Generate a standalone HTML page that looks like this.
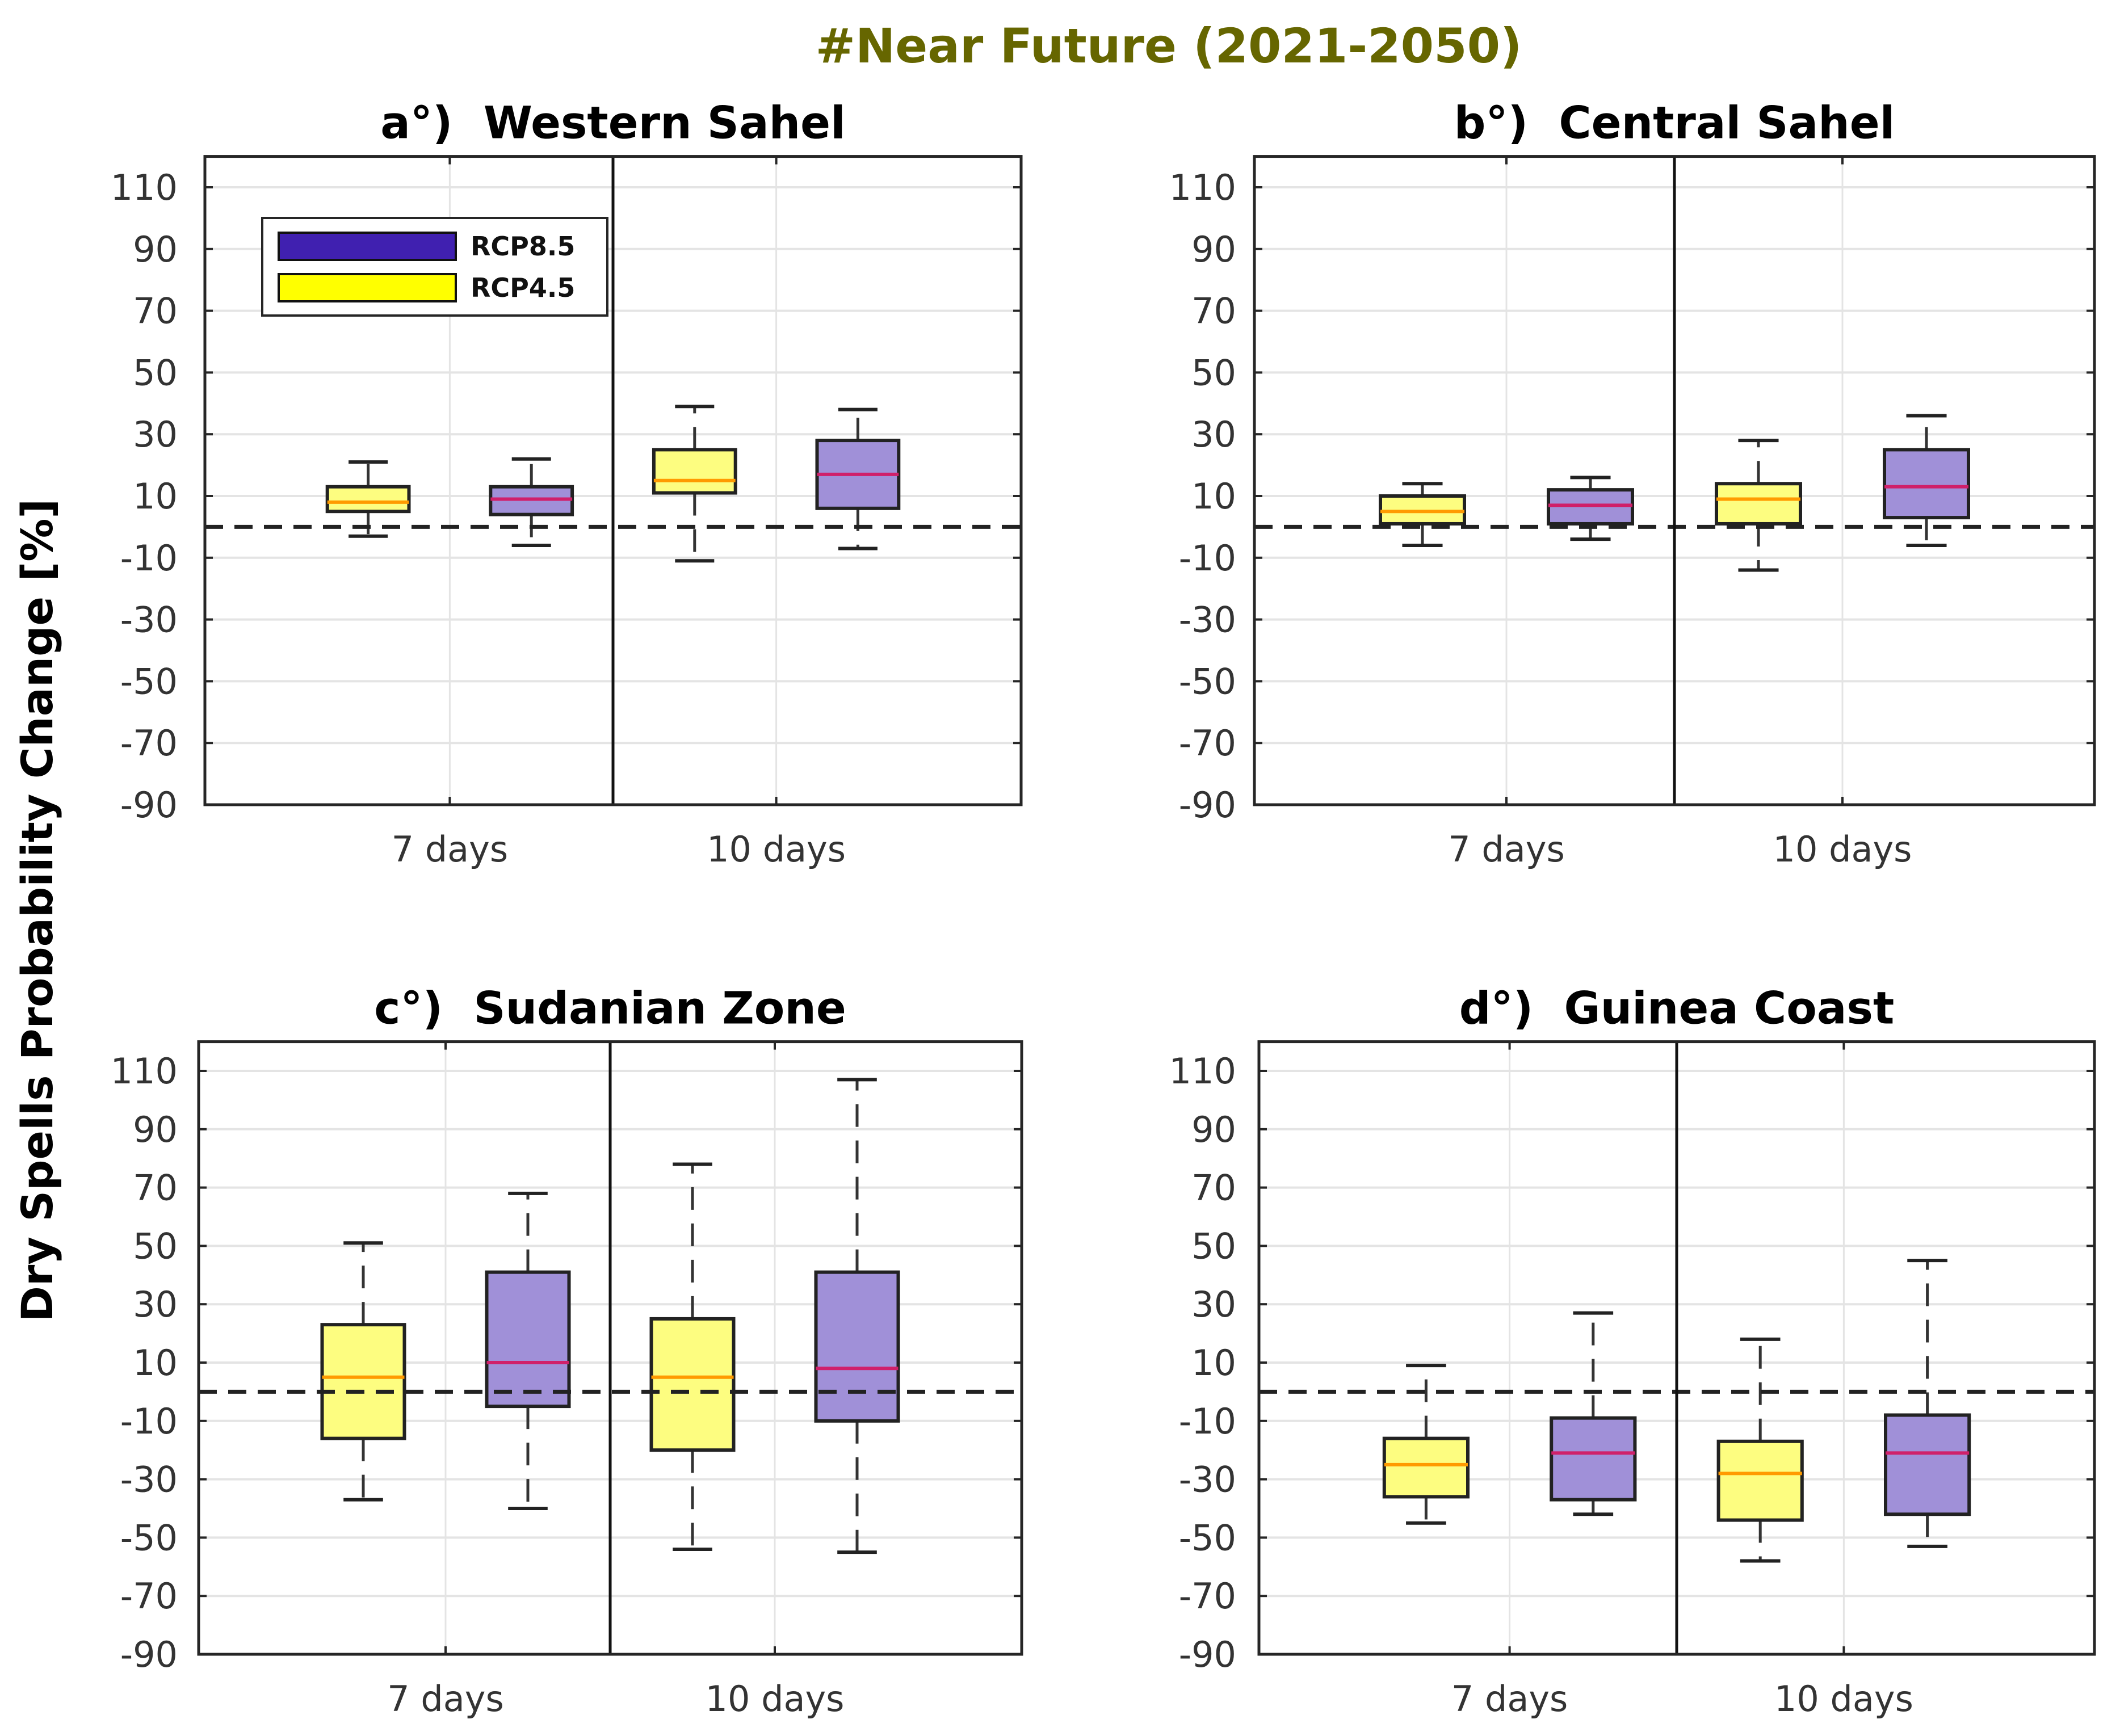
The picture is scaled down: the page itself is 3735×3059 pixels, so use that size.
<!DOCTYPE html>
<html><head><meta charset="utf-8"><style>
html,body{margin:0;padding:0;background:#fff;}
svg{display:block;}
text{font-family:"DejaVu Sans","Liberation Sans",sans-serif;white-space:pre;}
</style></head><body>
<svg id="fig" width="3735" height="3059" viewBox="0 0 3735 3059" xmlns="http://www.w3.org/2000/svg" xml:space="preserve">
<rect width="3735" height="3059" fill="#fff"/>
<text x="2059" y="110" text-anchor="middle" font-size="84" font-weight="bold" fill="#666600">#Near Future (2021-2050)</text>
<text transform="translate(92,1604) rotate(-90)" text-anchor="middle" font-size="76" font-weight="bold" fill="#000">Dry Spells Probability Change [%]</text>
<g id="plots"></g>
</svg>
<script>
const panelTitles = ["a°)  Western Sahel","b°)  Central Sahel","c°)  Sudanian Zone","d°)  Guinea Coast"];
const categories = ["7 days","10 days"];
const yTicks = [110,90,70,50,30,10,-10,-30,-50,-70,-90];
const seriesNames = ["RCP4.5","RCP8.5"];
// each box: [low, q1, median, q3, high]; order: Y7, P7, Y10, P10
const westernSahel = [[-3,5,8,13,21],[-6,4,9,13,22],[-11,11,15,25,39],[-7,6,17,28,38]];
const centralSahel = [[-6,1,5,10,14],[-4,1,7,12,16],[-14,1,9,14,28],[-6,3,13,25,36]];
const sudanianZone = [[-37,-16,5,23,51],[-40,-5,10,41,68],[-54,-20,5,25,78],[-55,-10,8,41,107]];
const guineaCoast = [[-45,-36,-25,-16,9],[-42,-37,-21,-9,27],[-58,-44,-28,-17,18],[-53,-42,-21,-8,45]];
const allData = [westernSahel, centralSahel, sudanianZone, guineaCoast];

const NS="http://www.w3.org/2000/svg";
const frames=[
 {L:361,R:1799,T:278,yTop:330,yBot:1418,tickR:313},
 {L:2210,R:3690,T:278,yTop:330,yBot:1418,tickR:2178},
 {L:350,R:1800,T:1839,yTop:1887,yBot:2915,tickR:313},
 {L:2218,R:3690,T:1839,yTop:1887,yBot:2915,tickR:2178}
];
function mk(tag,attrs,parent){const e=document.createElementNS(NS,tag);for(const k in attrs)e.setAttribute(k,attrs[k]);parent.appendChild(e);return e;}
const root=document.getElementById('plots');
frames.forEach((f,pi)=>{
  const g=mk('g',{},root);
  
  
  const ys=v=>f.yBot-(v+90)*(f.yBot-f.yTop)/200;
  const xs=v=>f.L+v*(f.R-f.L)/5;
  const B=ys(-90), T=ys(120);
  yTicks.forEach(t=>{
    const l=mk('line',{x1:f.L,x2:f.R,y1:ys(t),y2:ys(t),stroke:'#e4e4e4','stroke-width':4},g);
    
    
    const tx=mk('text',{x:f.tickR,y:ys(t)+22,'text-anchor':'end','font-size':62,fill:'#333'},g);
    
    
    tx.textContent=t;
    mk('line',{x1:f.L,x2:f.L+14,y1:ys(t),y2:ys(t),stroke:'#262626','stroke-width':4},g);
    mk('line',{x1:f.R-14,x2:f.R,y1:ys(t),y2:ys(t),stroke:'#262626','stroke-width':4},g);
  });
  categories.forEach((c,ci)=>{
    const cx=xs(1.5+2*ci);
    const l=mk('line',{x1:cx,x2:cx,y1:T,y2:B,stroke:'#e4e4e4','stroke-width':3},g);
    
    
    mk('line',{x1:cx,x2:cx,y1:B-14,y2:B,stroke:'#262626','stroke-width':4},g);
    mk('line',{x1:cx,x2:cx,y1:T,y2:T+14,stroke:'#262626','stroke-width':4},g);
    const tx=mk('text',{x:cx,y:B+100,'text-anchor':'middle','font-size':62,fill:'#333'},g);
    
    
    tx.textContent=c;
  });
  allData[pi].forEach((d,bi)=>{
    const purple=bi%2===1;
    const cx=xs(bi+1), hw=xs(0.25)-xs(0), cw=xs(0.12)-xs(0);
    const bg=mk('g',{},g);
    
    
    const dash={stroke:'#333','stroke-width':5,'stroke-dasharray':'40 24'};
    mk('line',Object.assign({x1:cx,x2:cx,y1:ys(d[3]),y2:ys(d[4])},dash),bg);
    mk('line',Object.assign({x1:cx,x2:cx,y1:ys(d[1]),y2:ys(d[0])},dash),bg);
    mk('line',{x1:cx-cw,x2:cx+cw,y1:ys(d[4]),y2:ys(d[4]),stroke:'#222','stroke-width':6},bg);
    mk('line',{x1:cx-cw,x2:cx+cw,y1:ys(d[0]),y2:ys(d[0]),stroke:'#222','stroke-width':6},bg);
    mk('rect',{x:cx-hw,y:ys(d[3]),width:2*hw,height:ys(d[1])-ys(d[3]),fill:purple?'#a090d8':'#fdfd80',stroke:'#222','stroke-width':6},bg);
    mk('line',{x1:cx-hw,x2:cx+hw,y1:ys(d[2]),y2:ys(d[2]),stroke:purple?'#d0206a':'#ff9a00','stroke-width':6},bg);
  });
  const z=mk('line',{x1:f.L,x2:f.R,y1:ys(0),y2:ys(0),stroke:'#222','stroke-width':7,'stroke-dasharray':'32 20'},g);
  
  
  const dv=mk('line',{x1:xs(2.5),x2:xs(2.5),y1:T,y2:B,stroke:'#111','stroke-width':5},g);
  
  
  const fr=mk('rect',{x:f.L,y:T,width:f.R-f.L,height:B-T,fill:'none',stroke:'#262626','stroke-width':5},g);
  
  
  const tt=mk('text',{x:(f.L+f.R)/2,y:T-32,'text-anchor':'middle','font-size':78,'font-weight':'bold',fill:'#000'},g);
  
  
  tt.textContent=panelTitles[pi];
  if(pi===0){
    const lg=mk('g',{},g);
    
    
    mk('rect',{x:462,y:384,width:608,height:172,fill:'#fff',stroke:'#262626','stroke-width':4},lg);
    const e1=mk('rect',{x:491,y:410,width:312,height:48,fill:'#4020b0',stroke:'#111','stroke-width':4},lg);
    
    
    const e2=mk('rect',{x:491,y:483,width:312,height:48,fill:'#ffff00',stroke:'#111','stroke-width':4},lg);
    
    
    const t1=mk('text',{x:829,y:450,'font-size':46,'font-weight':'bold',fill:'#111'},lg);
    
    
    t1.textContent=seriesNames[1];
    const t2=mk('text',{x:829,y:523,'font-size':46,'font-weight':'bold',fill:'#111'},lg);
    
    
    t2.textContent=seriesNames[0];
  }
});
</script>
</body></html>
